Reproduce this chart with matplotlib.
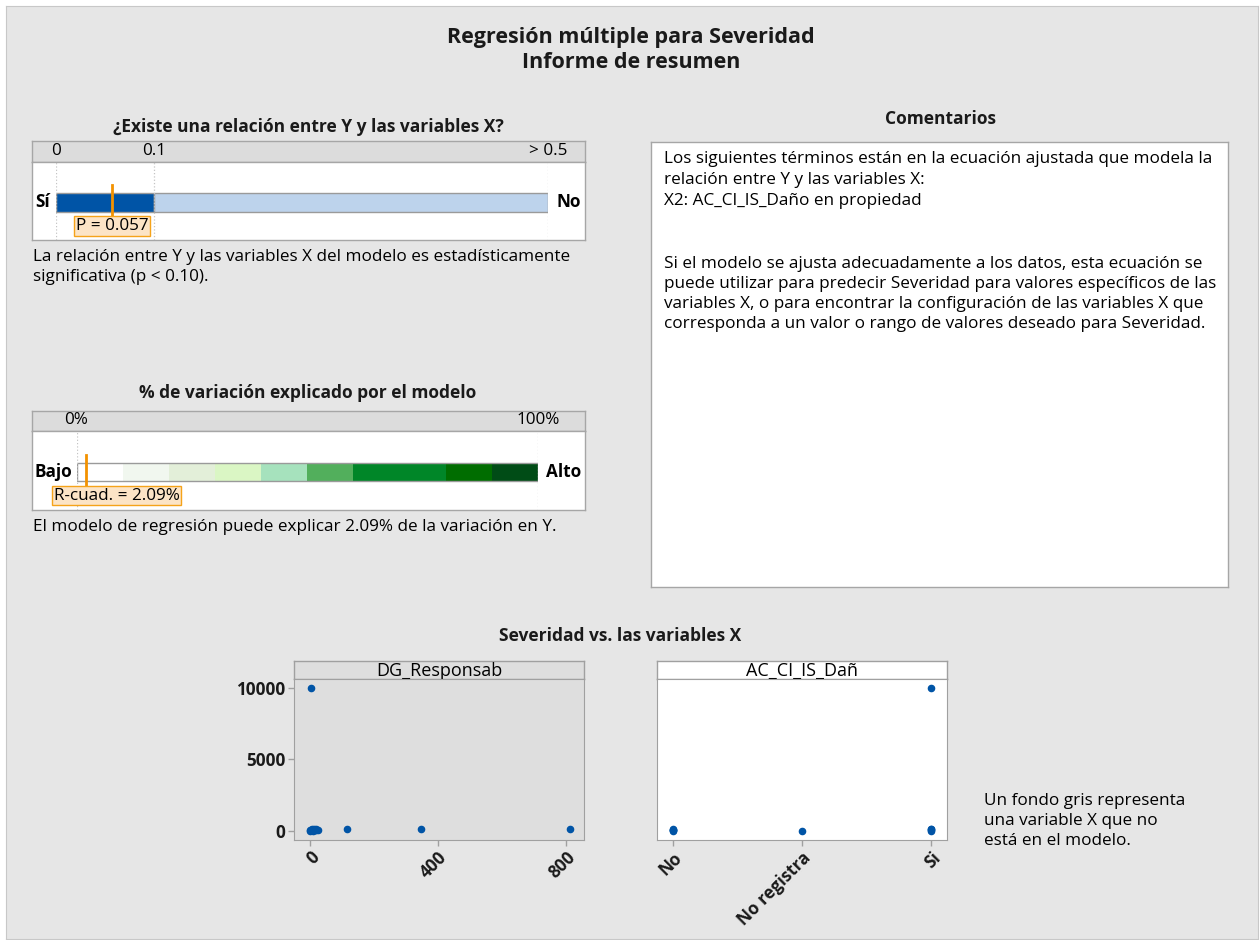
import matplotlib
matplotlib.use('Agg')
import numpy as np
import matplotlib.pyplot as plt

plt.rcParams['font.family'] = ['Open Sans', 'DejaVu Sans']

# ---- data ----
p_value = 0.057
p_ticks = [0, 0.1, 0.5]
p_tick_labels = ['0', '0.1', '> 0.5']
p_segments = [(0, 0.1), (0.1, 0.5)]
p_colors = ['#0054a6', '#bdd3ec']

r_sq = 2.09
r_ticks = [0, 100]
r_tick_labels = ['0%', '100%']
r_bounds = [0, 10, 20, 30, 40, 50, 60, 80, 90, 100]
r_colors = ['#ffffff', '#f1f7ef', '#e3efd9', '#daf6c4', '#a6e2bd',
            '#52af5c', '#008628', '#006d00', '#004c16']

dg_x = [4, 0, 1, 2, 3, 5, 6, 8, 10, 12, 15, 18, 20, 25, 115, 347, 811]
dg_y = [10000, 0, 40, 20, 80, 30, 100, 60, 10, 90, 50, 70, 120, 40, 90, 90, 90]

ac_cats = ['No', 'No registra', 'Si']
ac_x = ['No', 'No', 'No', 'No', 'No', 'No registra',
        'Si', 'Si', 'Si', 'Si', 'Si']
ac_y = [0, 40, 80, 120, 60, 0, 10000, 0, 50, 100, 150]

W, H = 1260, 940
FS = 12.3
TFS = 12.5
fig = plt.figure(figsize=(12.6, 9.4), dpi=100, facecolor='white')


def px_axes(x0, y0, x1, y1, **kw):
    return fig.add_axes([x0 / W, 1 - y1 / H, (x1 - x0) / W, (y1 - y0) / H], **kw)


def px_text(x, y, s, **kw):
    kw.setdefault('va', 'center')
    kw.setdefault('fontsize', FS)
    return fig.text(x / W, 1 - y / H, s, **kw)


def box(x0, y0, x1, y1, color='white', edge='#a6a6a6'):
    ax = px_axes(x0, y0, x1, y1, facecolor=color)
    ax.set_xticks([])
    ax.set_yticks([])
    for s in ax.spines.values():
        s.set_color(edge)
        s.set_linewidth(1)
    return ax


# background panel
bg = px_axes(6, 6, 1258, 939, facecolor='#e6e6e6')
bg.set_xticks([])
bg.set_yticks([])
for s in bg.spines.values():
    s.set_color('#c8c8c8')

px_text(631, 38, 'Regresión múltiple para Severidad', ha='center',
        fontsize=15.5, fontweight='bold', color='#1a1a1a')
px_text(631, 62, 'Informe de resumen', ha='center',
        fontsize=15.5, fontweight='bold', color='#1a1a1a')

label_box = dict(boxstyle='square,pad=0.1', facecolor='#fce4c6',
                 edgecolor='#f5a31a', linewidth=1)

# ---- panel 1: p value ----
px_text(308, 127, '¿Existe una relación entre Y y las variables X?',
        ha='center', fontsize=TFS, fontweight='bold', color='#1a1a1a')
box(32, 141, 585, 162, color='#dcdcdc')
box(32, 162, 585, 240)


def p_fwd(p):
    p = np.asarray(p, dtype=float)
    return np.where(p <= 0.1, p / 0.1 * 0.2, 0.2 + (p - 0.1) / 0.4 * 0.8)


def p_inv(v):
    v = np.asarray(v, dtype=float)
    return np.where(v <= 0.2, v / 0.2 * 0.1, 0.1 + (v - 0.2) / 0.8 * 0.4)


ax1 = px_axes(56, 162, 548, 240)
ax1.patch.set_alpha(0)
ax1.set_xscale('function', functions=(p_fwd, p_inv))
ax1.set_xlim(0, 0.5)
ax1.set_ylim(0, 1)
ax1.axis('off')
for t in p_ticks:
    ax1.axvline(t, color='#c4c4c4', ls=':', lw=0.9)
for (a, b), c in zip(p_segments, p_colors):
    ax1.barh(0.485, b - a, left=a, height=0.243, color=c,
             edgecolor='#9a9a9a', linewidth=1)
ax1.plot([p_value, p_value], [0.29, 0.705], color='#f39200', lw=2)
ax1.text(p_value, 0.18, f'P = {p_value:.3f}', ha='center', va='center',
         fontsize=FS, bbox=label_box)
xt = ax1.get_xaxis_transform()
for t, lab in zip(p_ticks, p_tick_labels):
    ax1.text(t, 1.135, lab, transform=xt, ha='center', va='center', fontsize=FS)
ax1.annotate('Sí', xy=(0, 0.485), xycoords=xt, xytext=(-4, 0),
             textcoords='offset points', ha='right', va='center',
             fontsize=FS, fontweight='bold')
ax1.annotate('No', xy=(0.5, 0.485), xycoords=xt, xytext=(6, 0),
             textcoords='offset points', ha='left', va='center',
             fontsize=FS, fontweight='bold')

px_text(33, 257, 'La relación entre Y y las variables X del modelo es estadísticamente')
px_text(33, 277, 'significativa (p < 0.10).')

# ---- panel 2: R-squared ----
px_text(308, 393, '% de variación explicado por el modelo',
        ha='center', fontsize=TFS, fontweight='bold', color='#1a1a1a')
box(32, 411, 585, 431, color='#dcdcdc')
box(32, 431, 585, 510)

ax2 = px_axes(76.5, 431, 538, 510)
ax2.patch.set_alpha(0)
ax2.set_xlim(0, 100)
ax2.set_ylim(0, 1)
ax2.axis('off')
for t in r_ticks:
    ax2.axvline(t, color='#c4c4c4', ls=':', lw=0.9)
for a, b, c in zip(r_bounds[:-1], r_bounds[1:], r_colors):
    ax2.barh(0.484, b - a, left=a, height=0.232, color=c, linewidth=0)
ax2.barh(0.484, 100, left=0, height=0.232, fill=False,
         edgecolor='#9a9a9a', linewidth=1)
ax2.plot([r_sq, r_sq], [0.274, 0.69], color='#f39200', lw=2)
ax2.text(r_sq + 6.6, 0.183, f'R-cuad. = {r_sq:.2f}%', ha='center', va='center',
         fontsize=FS, bbox=label_box)
xt2 = ax2.get_xaxis_transform()
for t, lab in zip(r_ticks, r_tick_labels):
    ax2.text(t, 1.133, lab, transform=xt2, ha='center', va='center', fontsize=FS)
ax2.annotate('Bajo', xy=(0, 0.484), xycoords=xt2, xytext=(-3, 0),
             textcoords='offset points', ha='right', va='center',
             fontsize=FS, fontweight='bold')
ax2.annotate('Alto', xy=(100, 0.484), xycoords=xt2, xytext=(6, 0),
             textcoords='offset points', ha='left', va='center',
             fontsize=FS, fontweight='bold')

px_text(33, 527, 'El modelo de regresión puede explicar 2.09% de la variación en Y.')

# ---- comments ----
px_text(940, 119, 'Comentarios', ha='center', fontsize=TFS,
        fontweight='bold', color='#1a1a1a')
box(651, 142, 1228, 587)
comment_lines = [
    (159, 'Los siguientes términos están en la ecuación ajustada que modela la'),
    (180, 'relación entre Y y las variables X:'),
    (201, 'X2: AC_CI_IS_Daño en propiedad'),
    (264, 'Si el modelo se ajusta adecuadamente a los datos, esta ecuación se'),
    (284, 'puede utilizar para predecir Severidad para valores específicos de las'),
    (304, 'variables X, o para encontrar la configuración de las variables X que'),
    (324, 'corresponda a un valor o rango de valores deseado para Severidad.'),
]
for y, s in comment_lines:
    px_text(664, y, s)

# ---- scatter panels ----
px_text(620, 636, 'Severidad vs. las variables X', ha='center',
        fontsize=TFS, fontweight='bold', color='#1a1a1a')

ylim = (-650, 10630)


def style_scatter(ax):
    for s in ax.spines.values():
        s.set_color('#a0a0a0')
    ax.tick_params(axis='both', colors='#a0a0a0', labelcolor='#1a1a1a',
                   length=4, width=1, pad=2)
    for lab in ax.get_xticklabels() + ax.get_yticklabels():
        lab.set_fontweight('bold')
        lab.set_fontsize(FS)
    for lab in ax.get_xticklabels():
        lab.set_rotation(45)
        lab.set_ha('right')
        lab.set_rotation_mode('anchor')


h1 = box(294, 661, 584, 679, color='#dedede', edge='#a0a0a0')
h1.text(0.5, 0.45, 'DG_Responsab', ha='center', va='center', fontsize=13)
s1 = px_axes(294, 679, 584, 840, facecolor='#dedede')
s1.scatter(dg_x, dg_y, s=20, color='#0054a6', zorder=3)
s1.set_xlim(-50, 856)
s1.set_ylim(*ylim)
s1.set_xticks([0, 400, 800])
s1.set_yticks([0, 5000, 10000])
style_scatter(s1)

h2 = box(657, 661, 947, 679, color='white', edge='#a0a0a0')
h2.text(0.5, 0.45, 'AC_CI_IS_Dañ', ha='center', va='center', fontsize=13)
s2 = px_axes(657, 679, 947, 840, facecolor='white')
s2.scatter([ac_cats.index(c) for c in ac_x], ac_y, s=20, color='#0054a6', zorder=3)
s2.set_xlim(-0.12, 2.12)
s2.set_ylim(*ylim)
s2.set_xticks(range(len(ac_cats)))
s2.set_xticklabels(ac_cats)
s2.set_yticks([])
style_scatter(s2)

px_text(984, 801, 'Un fondo gris representa')
px_text(984, 821, 'una variable X que no')
px_text(984, 841, 'está en el modelo.')

fig.savefig('out.png', dpi=100, facecolor=fig.get_facecolor())
